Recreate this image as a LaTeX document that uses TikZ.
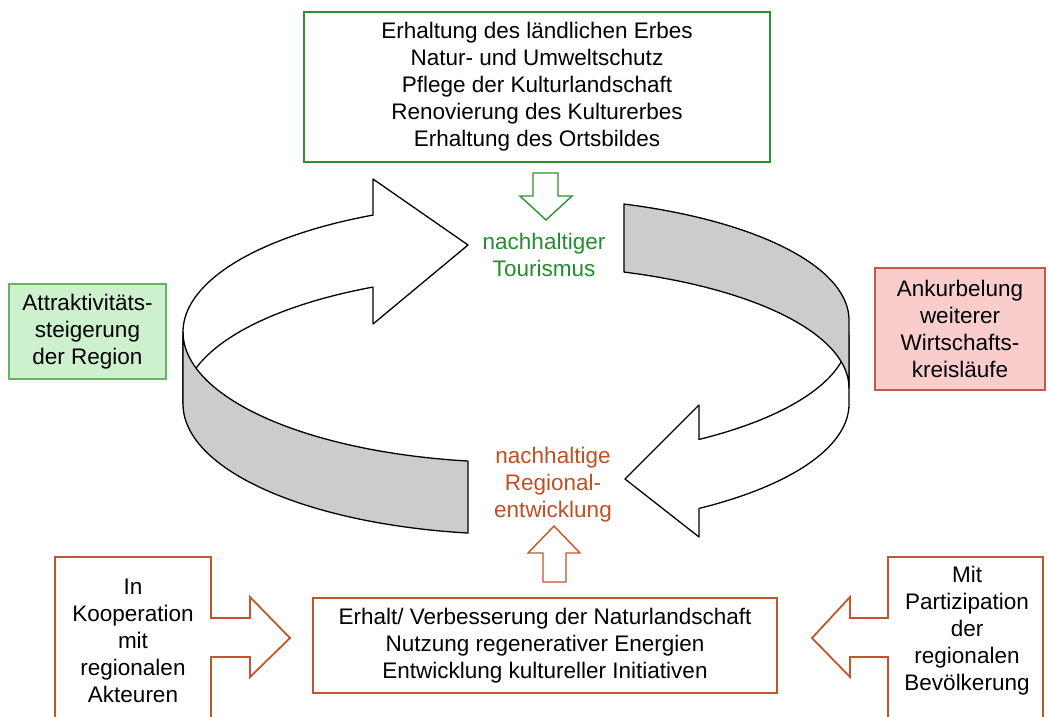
\documentclass[tikz,border=0pt]{standalone}
\usepackage{fontspec}
\setmainfont{Liberation Sans}
\definecolor{grnB}{RGB}{45,145,45}
\definecolor{grnT}{RGB}{35,140,45}
\definecolor{grnFill}{RGB}{205,240,205}
\definecolor{grnBox}{RGB}{100,180,100}
\definecolor{redFill}{RGB}{250,205,205}
\definecolor{redBox}{RGB}{195,90,70}
\definecolor{orng}{RGB}{195,85,45}
\definecolor{orngT}{RGB}{190,80,35}
\definecolor{bandgray}{RGB}{204,204,204}
\tikzset{
  txt/.style={align=center, font=\fontsize{22.5}{27}\selectfont, inner sep=0pt},
  bandline/.style={draw=black, line width=1.3pt, line join=round},
  blockarrow/.style={line width=1.4pt, line join=miter, fill=white},
}
\begin{document}
\begin{tikzpicture}[x=1pt,y=-1pt]
\useasboundingbox (0,0) rectangle (1048,716);

% ---- curved ribbon arrows ----
% upper-left white arrow (pointing right)
\filldraw[bandline, fill=white] (373,215.05) -- (373,179) -- (468,245) -- (373,324) -- (373,287.05)
  -- plot[domain=244.57:180,samples=60] ({516+333*cos(\x)},{404+129.5*sin(\x)})
  -- (183,332)
  -- plot[domain=180:244.57,samples=60] ({516+333*cos(\x)},{332+129.5*sin(\x)}) -- cycle;
% lower-left gray band
\filldraw[bandline, fill=bandgray]
  plot[domain=180:98.29,samples=60] ({516+333*cos(\x)},{332+130.4*sin(\x)})
  -- plot[domain=98.29:180,samples=60] ({516+333*cos(\x)},{404+130.4*sin(\x)}) -- cycle;
% lower-right white arrow (pointing left)
\filldraw[bandline, fill=white] (699,439.4) -- (699,405) -- (625,479) -- (699,537) -- (699,508.4)
  -- plot[domain=56.66:0,samples=60] ({516+333*cos(\x)},{404+125*sin(\x)})
  -- plot[domain=0:56.66,samples=60] ({516+333*cos(\x)},{335+125*sin(\x)}) -- cycle;
% upper-right gray band
\filldraw[bandline, fill=bandgray]
  plot[domain=288.92:360,samples=60] ({516+333*cos(\x)},{320+122.6*sin(\x)})
  -- plot[domain=360:288.92,samples=60] ({516+333*cos(\x)},{388+122.6*sin(\x)}) -- cycle;

% ---- top box ----
\node[txt, draw=grnB, line width=2.6pt, minimum width=466, minimum height=150] (topbox) at (537,87)
  {Erhaltung des ländlichen Erbes\\Natur- und Umweltschutz\\Pflege der Kulturlandschaft\\Renovierung des Kulturerbes\\Erhaltung des Ortsbildes};

% green down arrow
\draw[blockarrow, draw=grnB] (533,173) -- (558,173) -- (558,196) -- (572,196) -- (546,220) -- (520,196) -- (533,196) -- cycle;
\node[txt, text=grnT] (tour) at (544,255) {nachhaltiger\\Tourismus};

% ---- left green box ----
\node[txt, draw=grnBox, fill=grnFill, line width=1.8pt, minimum width=157, minimum height=95] (attr) at (87.5,331.5)
  {Attraktivitäts-\\steigerung\\der Region};

% ---- right red box ----
\node[txt, draw=redBox, fill=redFill, line width=1.8pt, minimum width=170, minimum height=122] (ank) at (960,329)
  {Ankurbelung\\weiterer\\Wirtschafts-\\kreisläufe};

% ---- regional development ----
\node[txt, text=orngT] (reg) at (553,485) {nachhaltige\\Regional-\\entwicklung};
\draw[blockarrow, draw=orng] (543,582) -- (543,553) -- (528,553) -- (554,526) -- (580,553) -- (566,553) -- (566,582) -- cycle;

% ---- bottom middle box ----
\node[txt, draw=orng, line width=2.6pt, minimum width=464, minimum height=95] (mid) at (545,645.5)
  {Erhalt/ Verbesserung der Naturlandschaft\\Nutzung regenerativer Energien\\Entwicklung kultureller Initiativen};

% ---- bottom left box with arrow ----
\draw[orng, line width=1.8pt, line join=miter] (55,722) -- (55,557) -- (211,557) -- (211,618) -- (250,618) -- (250,597)
  -- (290,638) -- (250,677) -- (250,657) -- (211,657) -- (211,722);
\node[txt] (koop) at (133,641) {In\\Kooperation\\mit\\regionalen\\Akteuren};

% ---- bottom right box with arrow ----
\draw[orng, line width=1.8pt, line join=miter] (1043,722) -- (1043,557) -- (888,557) -- (888,618) -- (850,618) -- (850,597)
  -- (812,638) -- (850,677) -- (850,657) -- (888,657) -- (888,722);
\node[txt] (part) at (967,631) {Mit\\Partizipation\\der\\regionalen\\Bevölkerung};
\end{tikzpicture}
\end{document}
